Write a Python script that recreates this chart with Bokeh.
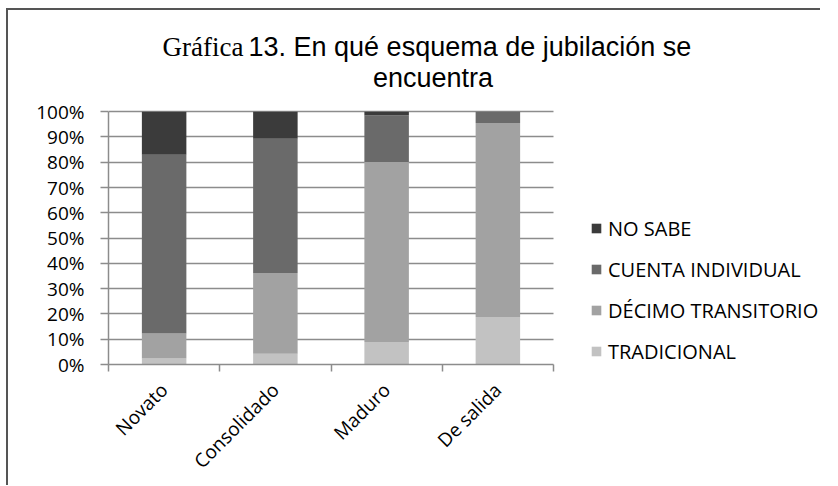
import math
from bokeh.plotting import figure
from bokeh.models import (ColumnDataSource, Range1d, FixedTicker, PrintfTickFormatter,
                          CustomJSTickFormatter, Legend, LegendItem, Label)
from bokeh.embed import file_html
from bokeh.resources import INLINE

# ---- data ----
categories = ["Novato", "Consolidado", "Maduro", "De salida"]
tradicional = [2.4, 4.3, 8.9, 18.8]
decimo_transitorio = [9.9, 31.9, 71.2, 76.7]
cuenta_individual = [70.7, 53.1, 18.4, 4.5]
no_sabe = [17.0, 10.7, 1.5, 0.0]
series_names = ["TRADICIONAL", "DÉCIMO TRANSITORIO", "CUENTA INDIVIDUAL", "NO SABE"]
y_ticks = list(range(0, 101, 10))

colors = ["#c2c2c2", "#a2a2a2", "#6a6a6a", "#3b3b3b"]
grid_color = "#8c8c8c"

x_pos = [i + 0.5 for i in range(len(categories))]
source = ColumnDataSource(dict(
    x=x_pos,
    TRADICIONAL=tradicional,
    DECIMO=decimo_transitorio,
    CUENTA=cuenta_individual,
    NOSABE=no_sabe,
))
stack_keys = ["TRADICIONAL", "DECIMO", "CUENTA", "NOSABE"]

# The frame is widened/heightened so that title and legend sit inside it;
# the chart itself occupies 445 x 253 px of it.
x_scale_factor = 1.6      # 712 / 445
y_scale_factor = 1.4      # ~354 / 253

p = figure(
    frame_width=712, frame_height=354,
    min_border_left=100, min_border_top=0, min_border_right=0, min_border_bottom=121,
    x_range=Range1d(0, len(categories) * x_scale_factor),
    y_range=Range1d(0, 100 * y_scale_factor),
    output_backend="svg", toolbar_location=None, tools="",
)
p.styles = {"margin-left": "6px", "margin-top": "8px",
            "border-top": "2px solid #555555", "border-left": "2px solid #555555"}
p.outline_line_color = None
p.background_fill_color = "white"
p.border_fill_color = "white"

renderers = p.vbar_stack(stack_keys, x="x", width=0.4, source=source,
                         fill_color=colors, line_color=None)

# y axis
p.yaxis.ticker = FixedTicker(ticks=y_ticks)
p.yaxis.bounds = (0, 100)
p.yaxis.formatter = PrintfTickFormatter(format="%d%%")
p.yaxis.major_tick_out = 8
p.yaxis.major_tick_in = 0
p.yaxis.minor_tick_line_color = None
p.yaxis.major_label_text_font = "Open Sans"
p.yaxis.major_label_text_font_size = "19px"
p.yaxis.major_label_text_color = "black"
p.yaxis.major_label_standoff = 16
p.yaxis.axis_line_color = grid_color
p.yaxis.axis_line_width = 1.5
p.yaxis.major_tick_line_color = grid_color
p.yaxis.major_tick_line_width = 1.5

# x axis: labels at centers, ticks at boundaries (minor)
p.xaxis.ticker = FixedTicker(ticks=x_pos, minor_ticks=list(range(len(categories) + 1)))
p.xaxis.bounds = (0, len(categories))
p.xaxis.formatter = CustomJSTickFormatter(args=dict(cats=categories),
                                          code="return cats[Math.floor(tick)] || '';")
p.xaxis.major_tick_line_color = None
p.xaxis.minor_tick_out = 7
p.xaxis.minor_tick_in = 0
p.xaxis.minor_tick_line_color = grid_color
p.xaxis.minor_tick_line_width = 1.5
p.xaxis.axis_line_color = grid_color
p.xaxis.axis_line_width = 1.5
p.xaxis.major_label_orientation = math.pi / 4
p.xaxis.major_label_text_font = "Open Sans"
p.xaxis.major_label_text_font_size = "19px"
p.xaxis.major_label_text_color = "black"
p.xaxis.major_label_standoff = 15

p.xgrid.visible = False
p.ygrid.ticker = FixedTicker(ticks=y_ticks)
p.ygrid.cross_bounds = (0, len(categories))
p.ygrid.grid_line_color = grid_color
p.ygrid.grid_line_width = 1.5

# legend (top item = NO SABE)
items = [LegendItem(label=name, renderers=[r]) for name, r in zip(series_names, renderers)]
legend = Legend(items=list(reversed(items)), location=(482, -2))
legend.border_line_color = None
legend.background_fill_alpha = 0
legend.padding = 0
legend.margin = 0
legend.glyph_width = 12
legend.glyph_height = 12
legend.label_height = 30
legend.spacing = 11
legend.label_standoff = 6
legend.label_text_font = "Open Sans"
legend.label_text_font_size = "20px"
legend.label_text_color = "black"
p.add_layout(legend, "center")

# title (two fonts on first line)
p.add_layout(Label(x=135, y=318, x_units="screen", y_units="screen", text="Gráfica",
                   text_font="Liberation Serif", text_font_size="27px",
                   text_align="right", text_baseline="alphabetic", text_color="black"))
p.add_layout(Label(x=140, y=318, x_units="screen", y_units="screen",
                   text="13. En qué esquema de jubilación se",
                   text_font="Liberation Sans", text_font_size="27px",
                   text_align="left", text_baseline="alphabetic", text_color="black"))
p.add_layout(Label(x=324.5, y=287, x_units="screen", y_units="screen", text="encuentra",
                   text_font="Liberation Sans", text_font_size="27px",
                   text_align="center", text_baseline="alphabetic", text_color="black"))

open("out.html", "w").write(file_html(p, INLINE))
